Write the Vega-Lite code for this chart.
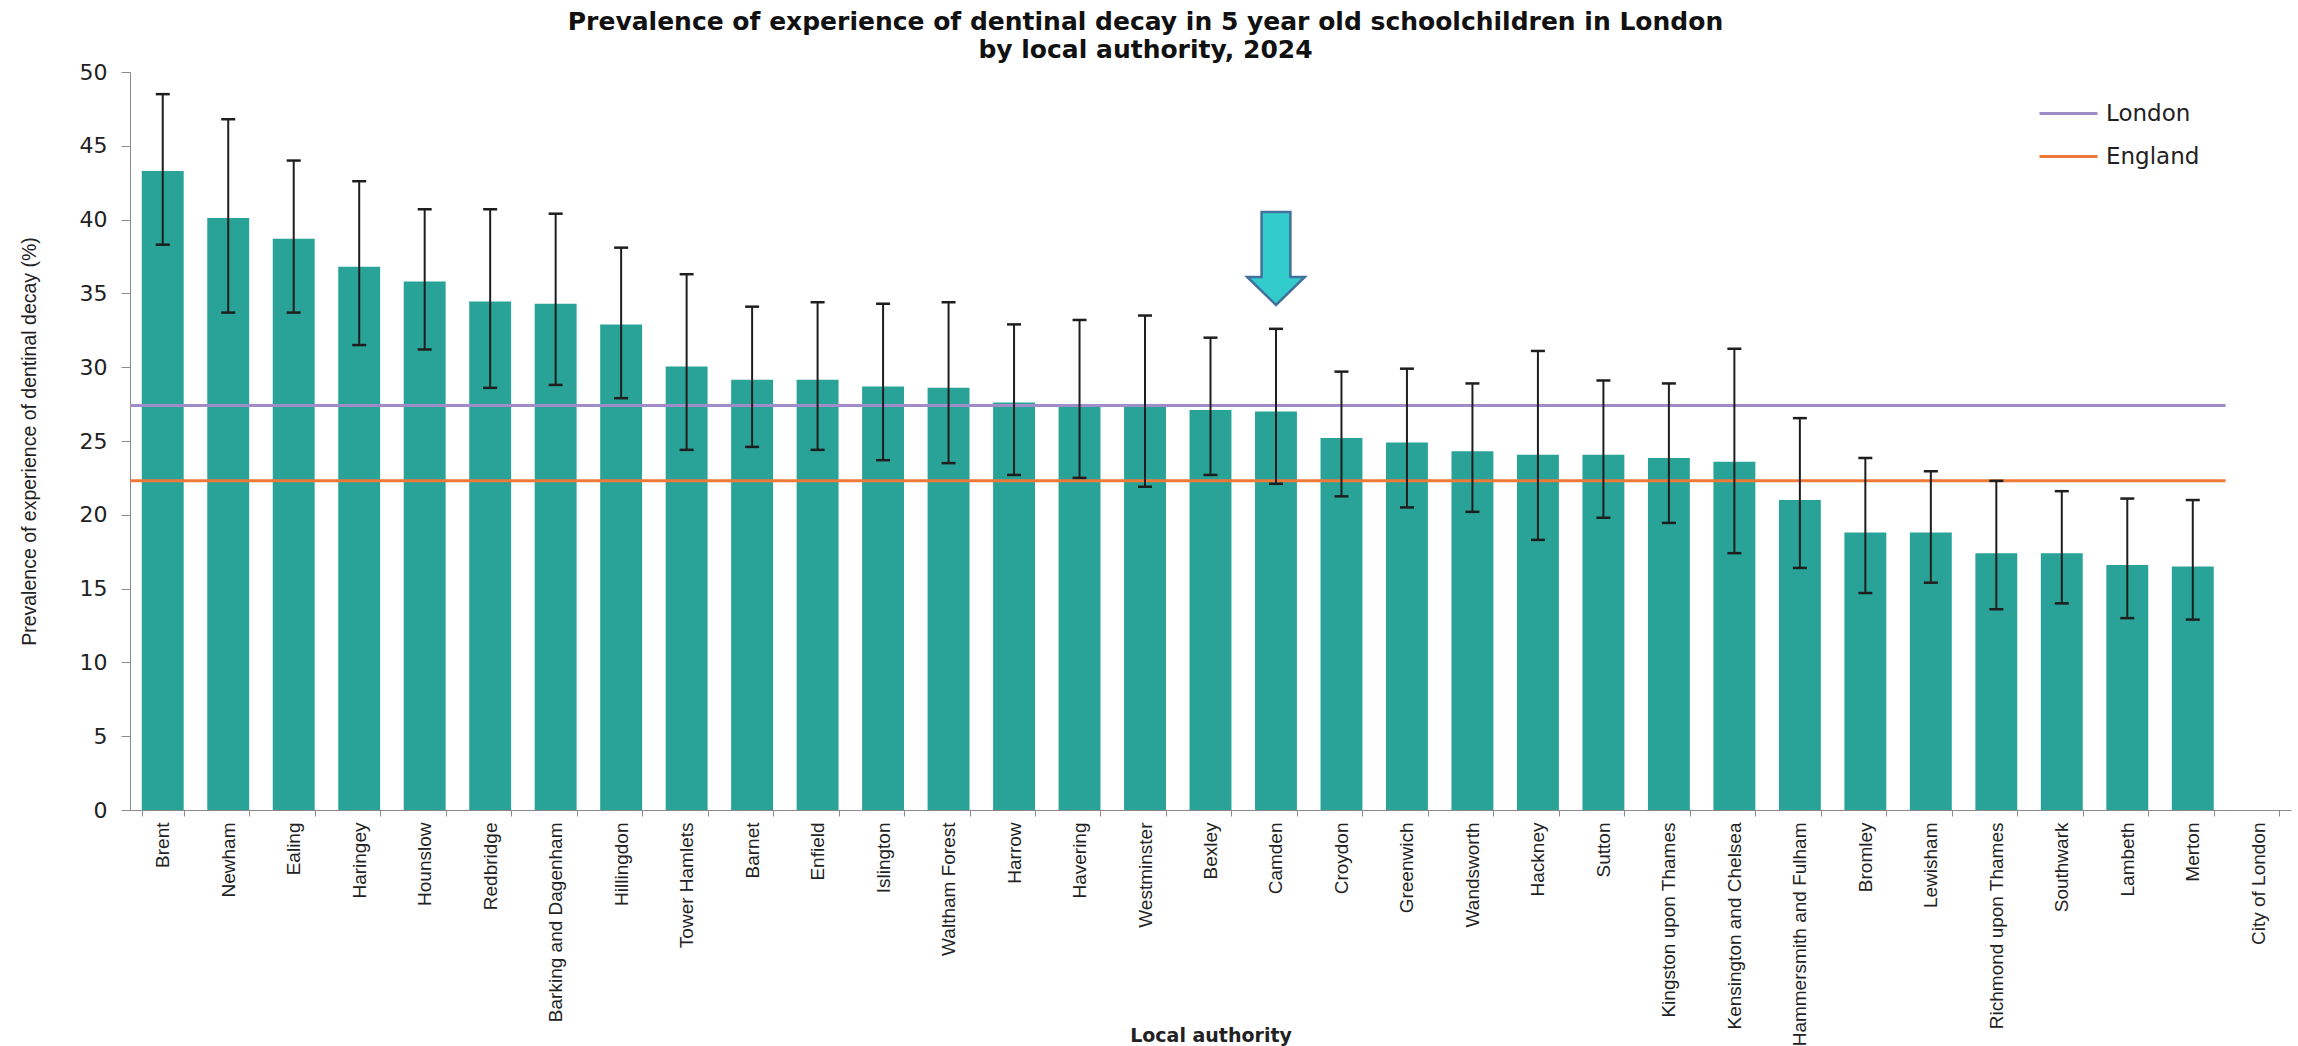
{
  "$schema": "https://vega.github.io/schema/vega-lite/v6.json",
  "autosize": {"type": "none"},
  "padding": {"left": 130, "top": 72, "right": 7, "bottom": 236},
  "width": 2161,
  "height": 738,
  "background": "white",
  "config": {
    "view": {"stroke": null},
    "axis": {"grid": false, "domainColor": "#8a8a8a", "tickColor": "#8a8a8a", "labelColor": "#222222", "titleColor": "#222222"}
  },
  "title": {
    "text": ["Prevalence of experience of dentinal decay in 5 year old schoolchildren in London", "by local authority, 2024"],
    "font": "DejaVu Sans",
    "fontWeight": "bold",
    "fontSize": 25,
    "lineHeight": 28,
    "color": "#111111",
    "anchor": "middle",
    "frame": "group",
    "dx": -65,
    "dy": 10,
    "offset": 8
  },
  "datasets": {
    "la": [
      {"authority": "Brent", "value": 43.3, "lo": 38.3, "hi": 48.5},
      {"authority": "Newham", "value": 40.1, "lo": 33.7, "hi": 46.8},
      {"authority": "Ealing", "value": 38.7, "lo": 33.7, "hi": 44.0},
      {"authority": "Haringey", "value": 36.8, "lo": 31.5, "hi": 42.6},
      {"authority": "Hounslow", "value": 35.8, "lo": 31.2, "hi": 40.7},
      {"authority": "Redbridge", "value": 34.45, "lo": 28.6, "hi": 40.7},
      {"authority": "Barking and Dagenham", "value": 34.3, "lo": 28.8, "hi": 40.4},
      {"authority": "Hillingdon", "value": 32.9, "lo": 27.9, "hi": 38.1},
      {"authority": "Tower Hamlets", "value": 30.05, "lo": 24.4, "hi": 36.3},
      {"authority": "Barnet", "value": 29.15, "lo": 24.6, "hi": 34.1},
      {"authority": "Enfield", "value": 29.15, "lo": 24.4, "hi": 34.4},
      {"authority": "Islington", "value": 28.7, "lo": 23.7, "hi": 34.3},
      {"authority": "Waltham Forest", "value": 28.6, "lo": 23.5, "hi": 34.4},
      {"authority": "Harrow", "value": 27.6, "lo": 22.7, "hi": 32.9},
      {"authority": "Havering", "value": 27.4, "lo": 22.5, "hi": 33.2},
      {"authority": "Westminster", "value": 27.4, "lo": 21.9, "hi": 33.5},
      {"authority": "Bexley", "value": 27.1, "lo": 22.7, "hi": 32.0},
      {"authority": "Camden", "value": 27.0, "lo": 22.1, "hi": 32.6},
      {"authority": "Croydon", "value": 25.2, "lo": 21.25, "hi": 29.7},
      {"authority": "Greenwich", "value": 24.9, "lo": 20.5, "hi": 29.9},
      {"authority": "Wandsworth", "value": 24.3, "lo": 20.2, "hi": 28.9},
      {"authority": "Hackney", "value": 24.07, "lo": 18.3, "hi": 31.1},
      {"authority": "Sutton", "value": 24.07, "lo": 19.8, "hi": 29.1},
      {"authority": "Kingston upon Thames", "value": 23.85, "lo": 19.45, "hi": 28.9},
      {"authority": "Kensington and Chelsea", "value": 23.6, "lo": 17.4, "hi": 31.25},
      {"authority": "Hammersmith and Fulham", "value": 21.0, "lo": 16.4, "hi": 26.55},
      {"authority": "Bromley", "value": 18.8, "lo": 14.7, "hi": 23.85},
      {"authority": "Lewisham", "value": 18.8, "lo": 15.4, "hi": 22.95},
      {"authority": "Richmond upon Thames", "value": 17.4, "lo": 13.6, "hi": 22.3},
      {"authority": "Southwark", "value": 17.4, "lo": 14.0, "hi": 21.6},
      {"authority": "Lambeth", "value": 16.6, "lo": 13.0, "hi": 21.1},
      {"authority": "Merton", "value": 16.5, "lo": 12.9, "hi": 21.0},
      {"authority": "City of London", "value": null, "lo": null, "hi": null}
    ],
    "ref": [
      {"series": "London", "value": 27.4},
      {"series": "England", "value": 22.3}
    ],
    "highlight": [
      {"authority": "Camden", "note": "arrow"}
    ]
  },
  "encoding": {
    "x": {
      "field": "authority",
      "type": "nominal",
      "sort": null,
      "scale": {
        "domain": ["Brent", "Newham", "Ealing", "Haringey", "Hounslow", "Redbridge", "Barking and Dagenham", "Hillingdon", "Tower Hamlets", "Barnet", "Enfield", "Islington", "Waltham Forest", "Harrow", "Havering", "Westminster", "Bexley", "Camden", "Croydon", "Greenwich", "Wandsworth", "Hackney", "Sutton", "Kingston upon Thames", "Kensington and Chelsea", "Hammersmith and Fulham", "Bromley", "Lewisham", "Richmond upon Thames", "Southwark", "Lambeth", "Merton", "City of London"],
        "paddingInner": 0.36,
        "paddingOuter": 0.18
      },
      "axis": {
        "title": "Local authority",
        "titleFont": "DejaVu Sans",
        "titleFontWeight": "bold",
        "titleFontSize": 19,
        "titleY": 225,
        "titleBaseline": "middle",
        "labelAngle": -90,
        "labelFont": "Liberation Sans",
        "labelFontSize": 19,
        "labelPadding": 6,
        "labelLimit": 500,
        "tickSize": 6,
        "tickBand": "extent",
        "labelOverlap": false
      }
    }
  },
  "layer": [
    {
      "data": {"name": "la"},
      "mark": {"type": "bar", "color": "#29A397"},
      "encoding": {
        "y": {
          "field": "value",
          "type": "quantitative",
          "scale": {"domain": [0, 50], "nice": false},
          "axis": {
            "values": [0, 5, 10, 15, 20, 25, 30, 35, 40, 45, 50],
            "title": "Prevalence of experience of dentinal decay (%)",
            "titleFont": "Liberation Sans",
            "titleFontSize": 19.5,
            "titleFontWeight": "normal",
            "titleAngle": -90,
            "titleX": -101,
            "titleY": 369,
            "titleAlign": "center",
            "titleBaseline": "middle",
            "labelFont": "DejaVu Sans",
            "labelFontSize": 22,
            "labelPadding": 14,
            "tickSize": 9
          }
        }
      }
    },
    {
      "data": {"name": "ref"},
      "mark": {"type": "rule", "strokeWidth": 3},
      "encoding": {
        "x": {"datum": "Brent", "bandPosition": -0.281},
        "x2": {"datum": "City of London", "bandPosition": -0.281},
        "y": {"field": "value", "type": "quantitative"},
        "color": {
          "field": "series",
          "type": "nominal",
          "scale": {"domain": ["London", "England"], "range": ["#A08CC8", "#EE7A3A"]},
          "legend": {
            "title": null,
            "orient": "none",
            "legendX": 1908,
            "legendY": 11,
            "symbolType": "stroke",
            "symbolSize": 3364,
            "symbolStrokeWidth": 3,
            "labelFont": "DejaVu Sans",
            "labelFontSize": 23,
            "labelColor": "#222222",
            "labelOffset": 7,
            "rowPadding": 0
          }
        }
      }
    },
    {
      "data": {"name": "la"},
      "mark": {"type": "rule", "color": "#1e1e1e", "strokeWidth": 2},
      "encoding": {
        "y": {"field": "lo", "type": "quantitative"},
        "y2": {"field": "hi"}
      }
    },
    {
      "data": {"name": "la"},
      "mark": {"type": "tick", "color": "#1e1e1e", "thickness": 2.5, "size": 14, "opacity": 1},
      "encoding": {
        "y": {"field": "lo", "type": "quantitative"}
      }
    },
    {
      "data": {"name": "la"},
      "mark": {"type": "tick", "color": "#1e1e1e", "thickness": 2.5, "size": 14, "opacity": 1},
      "encoding": {
        "y": {"field": "hi", "type": "quantitative"}
      }
    },
    {
      "data": {"name": "highlight"},
      "mark": {
        "type": "point",
        "shape": "M-0.31,-1L0.31,-1L0.31,0.4L0.62,0.4L0,1L-0.62,0.4L-0.31,0.4Z",
        "size": 8649,
        "filled": true,
        "fill": "#33CCCC",
        "stroke": "#41719C",
        "strokeWidth": 2.5,
        "opacity": 1
      },
      "encoding": {
        "y": {"datum": 37.37}
      }
    }
  ]
}
